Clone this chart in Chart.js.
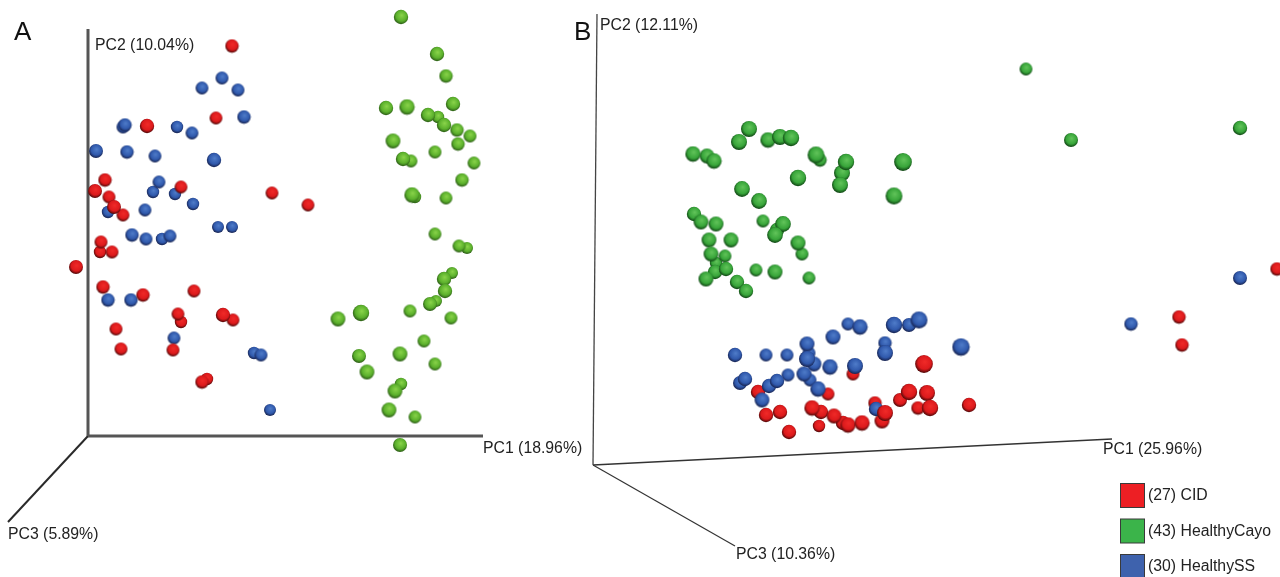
<!DOCTYPE html>
<html>
<head>
<meta charset="utf-8">
<title>PCoA panels A and B</title>
<script src="https://cdn.jsdelivr.net/npm/chart.js@4"></script>
<style>
html,body{margin:0;padding:0;background:#fff;overflow:hidden}
canvas{display:block;filter:blur(0.35px)}
</style>
</head>
<body>
<canvas id="c" width="1280" height="577"></canvas>
<script>
// Values: [horizontal, vertical, sphere radius]
const panelA_CID = [[232,46,6.5],[216,118,6.2],[147,126,7],[105,180,6.5],[95,191,6.8],[109,197,6.3],[114,207,6.8],[123,215,6.2],[181,187,6.2],[272,193,6.2],[308,205,6.2],[101,242,6.3],[100,252,6],[112,252,6.3],[76,267,6.8],[103,287,6.5],[143,295,6.5],[194,291,6.3],[181,322,6],[178,314,6.2],[223,315,7],[233,320,6.2],[116,329,6.3],[121,349,6.3],[173,350,6.3],[207,379,6],[202,382,6.5]];
const panelA_Blue = [[222,78,6.3],[202,88,6.2],[238,90,6.3],[244,117,6.5],[123,127,6.3],[125,125,6.5],[177,127,6],[192,133,6.2],[96,151,6.8],[127,152,6.5],[155,156,6.2],[214,160,7],[159,182,6.2],[153,192,6],[175,194,6],[193,204,6],[145,210,6.2],[108,212,6],[218,227,5.8],[232,227,5.8],[132,235,6.5],[146,239,6.3],[162,239,6],[170,236,6.2],[108,300,6.5],[131,300,6.5],[174,338,6.2],[254,353,6],[261,355,6.3],[270,410,5.8]];
const panelA_Green = [[401,17,7],[437,54,7],[446,76,6.5],[386,108,7],[407,107,7.5],[453,104,7],[428,115,7],[438,117,6],[444,125,7],[457,130,6.5],[470,136,6.3],[458,144,6.5],[393,141,7.2],[435,152,6.3],[411,161,6.2],[403,159,7],[474,163,6.2],[462,180,6.5],[415,197,6],[412,195,7.5],[446,198,6.2],[435,234,6.2],[467,248,5.8],[459,246,6.2],[452,273,5.8],[444,279,7],[445,291,7],[436,301,5.8],[430,304,6.8],[410,311,6.3],[451,318,6.3],[361,313,8],[338,319,7.2],[424,341,6.3],[400,354,7.2],[359,356,6.8],[435,364,6.3],[367,372,7.2],[401,384,6],[395,391,7.2],[389,410,7.2],[415,417,6.2],[400,445,6.8]];
const panelB_CID = [[853,374,6.3],[924,364,8.7],[758,392,7],[828,394,6.3],[909,392,8],[927,393,7.8],[900,400,6.8],[875,403,6.5],[918,408,6.5],[930,408,8],[969,405,7],[766,415,7],[780,412,7],[812,408,7.5],[821,412,7],[834,416,7.2],[843,423,7],[848,425,7.5],[862,423,7.5],[882,421,7.3],[819,426,6],[789,432,7],[1277,269,6.5],[1179,317,6.5],[1182,345,6.5]];
const panelB_CIDFront = [[885,413,7.8]];
const panelB_Blue = [[735,355,7],[766,355,6.3],[787,355,6.3],[807,344,7.3],[833,337,7.3],[848,324,6.3],[860,327,7.5],[894,325,8],[909,325,6.8],[919,320,8.3],[885,343,6.5],[885,353,7.8],[961,347,8.5],[809,353,6.3],[807,359,7.8],[814,364,7.2],[830,367,7.5],[855,366,7.8],[740,383,6.8],[745,379,7],[769,386,7],[777,381,7],[788,375,6.3],[804,374,7.3],[810,380,6.3],[818,389,7.5],[762,400,7.2],[876,409,7],[1240,278,6.8],[1131,324,6.5]];
const panelB_Green = [[693,154,7.5],[707,156,7.2],[714,161,7.5],[739,142,7.8],[749,129,7.8],[768,140,7.5],[780,137,7.8],[791,138,8],[820,160,6.5],[816,155,8.2],[846,162,8],[842,173,7.8],[840,185,7.8],[903,162,8.7],[894,196,8.2],[798,178,8],[742,189,7.7],[759,201,7.7],[694,214,7],[701,222,7.2],[716,224,7.3],[763,221,6.3],[777,230,7],[783,224,7.7],[775,235,7.7],[798,243,7.3],[802,254,6.3],[709,240,7.2],[731,240,7.2],[711,254,7.2],[725,256,6.2],[716,263,6],[715,272,7],[726,269,7],[706,279,7.3],[737,282,7],[746,291,7],[756,270,6.2],[775,272,7.3],[809,278,6.2],[1026,69,6.2],[1071,140,6.8],[1240,128,7]];

const axisA = {origin:[88,436], PC1:[483,436], PC2:[88,29], PC3:[8,522]};
const axisB = {origin:[593,465], PC1:[1112,439], PC2:[597,14], PC3:[735,546]};

const axisLabels = [
  ['PC2 (10.04%)',95,46],['PC1 (18.96%)',483,449],['PC3 (5.89%)',8,535],
  ['PC2 (12.11%)',600,26],['PC1 (25.96%)',1103,450],['PC3 (10.36%)',736,555]
];
const panelLabels = [['A',14,33],['B',574,33]];
const legendLabels = ['(27) CID','(43) HealthyCayo','(30) HealthySS'];
const legendColors = ['#ed1f24','#3bb44a','#3e62ad'];

const spheres = {
  red:  ['#f02a28','#dc1a1c','#4e0808'],
  blue: ['#4f7cc9','#3059ac','#172350'],
  greenA:['#8ad44a','#5bb02c','#2c5c16'],
  greenB:['#62c45a','#38a53a','#0f4413']
};
const sphereCache = {};
function sphereImage(tone,r){
  const key = tone+r;
  if(sphereCache[key]) return sphereCache[key];
  const c = spheres[tone];
  const size = Math.ceil(r*2)+2;
  const cv = document.createElement('canvas');
  cv.width = size; cv.height = size;
  const g = cv.getContext('2d');
  const m = size/2;
  const grad = g.createRadialGradient(m+r*0.1,m-r*0.25,0,m+r*0.05,m-r*0.12,r*1.14);
  grad.addColorStop(0,c[0]);
  grad.addColorStop(0.66,c[1]);
  grad.addColorStop(1,c[2]);
  g.fillStyle = grad;
  g.beginPath(); g.arc(m,m,r+0.2,0,Math.PI*2); g.fill();
  sphereCache[key] = cv;
  return cv;
}
function points(rows){
  return rows.slice().sort((a,b)=>a[2]-b[2]).map(p=>({x:p[0],y:p[1],r:p[2]}));
}
function bubbles(rows,tone,order){
  return {type:'bubble',data:points(rows),
    pointStyle:(ctx)=> ctx.raw ? sphereImage(tone,ctx.raw.r) : 'circle',
    backgroundColor:spheres[tone][1],borderWidth:0,hoverRadius:0,order:order,clip:false};
}
function axisLine(a,end,w,col){
  return {type:'line',data:[{x:a.origin[0],y:a.origin[1]},{x:a[end][0],y:a[end][1]}],
    borderColor:col,borderWidth:w,pointRadius:0,fill:false,tension:0,order:50,clip:false};
}

const textPlugin = {
  id:'figureText',
  afterDatasetsDraw(chart){
    const g = chart.ctx, sx = chart.scales.x, sy = chart.scales.y;
    g.save();
    g.textBaseline='middle'; g.textAlign='left';
    g.fillStyle='#222';
    g.font='15.8px "Liberation Sans", Arial, sans-serif';
    axisLabels.forEach(t=>g.fillText(t[0],sx.getPixelForValue(t[1]),sy.getPixelForValue(t[2])));
    g.font='26px "Liberation Sans", Arial, sans-serif';
    g.fillStyle='#111';
    panelLabels.forEach(t=>g.fillText(t[0],sx.getPixelForValue(t[1]),sy.getPixelForValue(t[2])));
    g.font='15.8px "Liberation Sans", Arial, sans-serif';
    legendLabels.forEach((t,i)=>{
      const top = 483.5 + i*35.5;
      g.fillStyle=legendColors[i];
      g.strokeStyle='#3a3a3a'; g.lineWidth=1;
      g.fillRect(1120.5,top,24,24);
      g.strokeRect(1120.5,top,24,24);
      g.fillStyle='#222';
      g.fillText(t,1148,top+12.5);
    });
    g.restore();
  }
};

// The plot area fills the whole canvas: no extra inset for mark overflow.
Chart.registry.getController('bubble').prototype.getMaxOverflow = () => 0;
Chart.registry.getController('line').prototype.getMaxOverflow = () => 0;

new Chart(document.getElementById('c'),{
  type:'bubble',
  data:{datasets:[
    axisLine(axisA,'PC2',3,'#555'),
    axisLine(axisA,'PC1',3,'#555'),
    axisLine(axisA,'PC3',2,'#2a2a2a'),
    axisLine(axisB,'PC2',1.3,'#444'),
    axisLine(axisB,'PC1',1.3,'#333'),
    axisLine(axisB,'PC3',1.2,'#333'),
    bubbles(panelA_CID,'red',2),
    bubbles(panelA_Blue,'blue',3),
    bubbles(panelA_Green,'greenA',3),
    bubbles(panelB_CIDFront,'red',2),
    bubbles(panelB_Blue,'blue',3),
    bubbles(panelB_CID,'red',4),
    bubbles(panelB_Green,'greenB',3)
  ]},
  options:{
    responsive:false,animation:false,
    layout:{padding:0},
    events:[],
    plugins:{legend:{display:false},tooltip:{enabled:false}},
    scales:{
      x:{type:'linear',display:false,min:0,max:1280},
      y:{type:'linear',display:false,min:0,max:577,reverse:true}
    }
  },
  plugins:[textPlugin]
});
</script>
</body>
</html>
